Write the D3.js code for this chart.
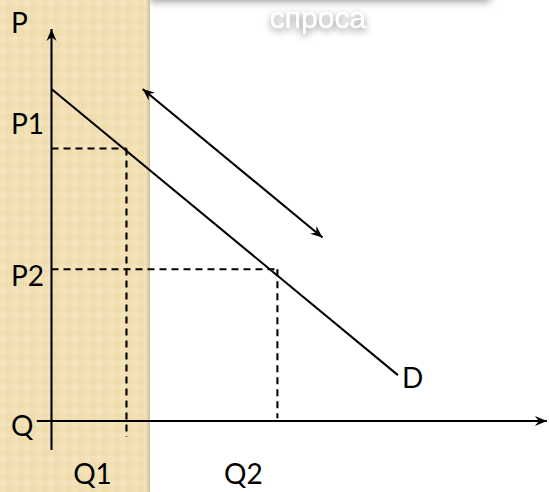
<!DOCTYPE html>
<html lang="ru">
<head>
<meta charset="UTF-8">
<title></title>
<script src="https://cdn.jsdelivr.net/npm/d3@7/dist/d3.min.js"></script>
<style>
    html, body { margin: 0; padding: 0; background: #fff; }
    svg { display: block; }
</style>
</head>
<body>
<div id="chart"></div>
<script>
    // demand shift chart (units 0..100 on both axes)
    var title = "спроса";
    var demand = [[0, 84.7], [70.7, 11.7]];
    var shift = [[18.6, 84.7], [55.3, 46.8]];
    var points = [
        {q: 15.3, p: 69.5, qLabel: "Q1", pLabel: "P1"},
        {q: 46.1, p: 38.7, qLabel: "Q2", pLabel: "P2"}
    ];
    var axisLabels = {p: "P", q: "Q", d: "D"};

    var W = 549, H = 492;
    var svg = d3.select("#chart").append("svg")
        .attr("width", W)
        .attr("height", H);

    var x = d3.scaleLinear().domain([0, 100]).range([51.5, 541.5]);
    var y = d3.scaleLinear().domain([0, 100]).range([421, 29]);

    var defs = svg.append("defs");

    // beige texture
    var pat = defs.append("pattern")
        .attr("id", "tex")
        .attr("width", 12).attr("height", 12)
        .attr("patternUnits", "userSpaceOnUse");
    pat.append("rect").attr("width", 12).attr("height", 12).attr("fill", "#f2e0b4");
    pat.append("circle").attr("cx", 3).attr("cy", 3).attr("r", 2.2)
        .attr("fill", "none").attr("stroke", "#f7ebcd").attr("stroke-width", 1);
    pat.append("rect").attr("x", 7).attr("y", 7).attr("width", 4).attr("height", 4)
        .attr("fill", "none").attr("stroke", "#ecd8a6").attr("stroke-width", 1);

    var blur = defs.append("filter").attr("id", "blur")
        .attr("x", "-20%").attr("y", "-50%").attr("width", "140%").attr("height", "200%");
    blur.append("feGaussianBlur").attr("stdDeviation", 4);

    var tshadow = defs.append("filter").attr("id", "tshadow")
        .attr("x", "-30%").attr("y", "-60%").attr("width", "160%").attr("height", "220%");
    tshadow.append("feDropShadow")
        .attr("dx", 0).attr("dy", 3).attr("stdDeviation", 3.5)
        .attr("flood-color", "#000").attr("flood-opacity", 0.5);

    var edge = defs.append("linearGradient").attr("id", "edge");
    edge.append("stop").attr("offset", "0%").attr("stop-color", "#f2e0b4");
    edge.append("stop").attr("offset", "100%").attr("stop-color", "#cdbd96");

    defs.append("marker")
        .attr("id", "arrow")
        .attr("viewBox", "-13 -6 15 12")
        .attr("refX", 0).attr("refY", 0)
        .attr("markerWidth", 15).attr("markerHeight", 12)
        .attr("markerUnits", "userSpaceOnUse")
        .attr("orient", "auto-start-reverse")
        .append("path")
        .attr("d", "M0,0 L-12,-5 L-8,0 L-12,5 Z")
        .attr("fill", "#000");

    // header box shadow at the top
    svg.append("rect")
        .attr("x", 150).attr("y", -40)
        .attr("width", 340).attr("height", 41)
        .attr("fill", "#8a8a8a")
        .attr("filter", "url(#blur)");

    // beige strip on the left
    svg.append("rect")
        .attr("x", 0).attr("y", 0)
        .attr("width", 150).attr("height", H)
        .attr("fill", "url(#tex)");
    svg.append("rect")
        .attr("x", 146).attr("y", 0)
        .attr("width", 4).attr("height", H)
        .attr("fill", "url(#edge)");

    svg.append("text")
        .attr("x", 318).attr("y", 28)
        .attr("text-anchor", "middle")
        .attr("font-family", "'Liberation Sans', 'DejaVu Sans', sans-serif")
        .attr("font-size", 30)
        .attr("fill", "#fff")
        .attr("filter", "url(#tshadow)")
        .text(title);

    var ink = "#000";
    var sw = 2.1;

    // axes
    svg.append("line")
        .attr("x1", x(0)).attr("y1", y(-7.4))
        .attr("x2", x(0)).attr("y2", y(100))
        .attr("stroke", ink).attr("stroke-width", sw)
        .attr("marker-end", "url(#arrow)");
    svg.append("line")
        .attr("x1", x(-3)).attr("y1", y(0))
        .attr("x2", x(101.1)).attr("y2", y(0))
        .attr("stroke", ink).attr("stroke-width", sw)
        .attr("marker-end", "url(#arrow)");

    // dashed guides
    var dash = "7,5";
    svg.selectAll(".hguide").data(points).enter().append("line")
        .attr("class", "hguide")
        .attr("x1", x(0)).attr("y1", function(d) { return y(d.p); })
        .attr("x2", function(d) { return x(d.q); }).attr("y2", function(d) { return y(d.p); })
        .attr("stroke", ink).attr("stroke-width", sw)
        .attr("stroke-dasharray", dash);
    svg.selectAll(".vguide").data(points).enter().append("line")
        .attr("class", "vguide")
        .attr("x1", function(d) { return x(d.q); }).attr("y1", function(d) { return y(d.p); })
        .attr("x2", function(d) { return x(d.q); })
        .attr("y2", function(d, i) { return i === 0 ? y(-4.1) : y(0.7); })
        .attr("stroke", ink).attr("stroke-width", sw)
        .attr("stroke-dasharray", dash);

    var line = d3.line().x(function(d) { return x(d[0]); }).y(function(d) { return y(d[1]); });

    // demand curve
    svg.append("path")
        .datum(demand)
        .attr("d", line)
        .attr("fill", "none")
        .attr("stroke", ink).attr("stroke-width", sw);

    // shift arrow
    svg.append("path")
        .datum(shift)
        .attr("d", line)
        .attr("fill", "none")
        .attr("stroke", ink).attr("stroke-width", sw)
        .attr("marker-start", "url(#arrow)")
        .attr("marker-end", "url(#arrow)");

    // labels
    var font = "'Lato', 'Open Sans', sans-serif";
    function label(t, px, py, anchor) {
        svg.append("text")
            .attr("x", px).attr("y", py)
            .attr("text-anchor", anchor || "start")
            .attr("font-family", font)
            .attr("font-size", 28)
            .attr("fill", "#000")
            .text(t);
    }
    label(axisLabels.p, 11, 33);
    label(axisLabels.q, 11, 436);
    label(axisLabels.d, 402, 388);
    label(points[0].pLabel, 11, 134);
    label(points[1].pLabel, 11, 286);
    points.forEach(function(d) {
        label(d.qLabel, x(d.q) - 34, 484, "middle");
    });
</script>
</body>
</html>
